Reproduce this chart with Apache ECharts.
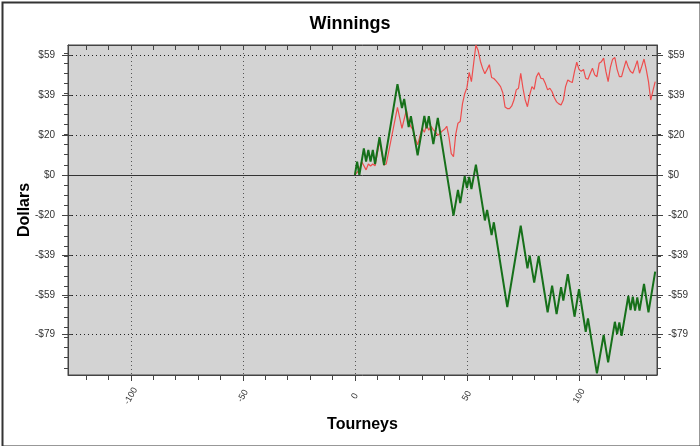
<!DOCTYPE html>
<html>
<head>
<meta charset="utf-8">
<script src="https://cdn.jsdelivr.net/npm/echarts@6/dist/echarts.min.js"></script>
<style>html,body{margin:0;padding:0;background:#fff}#c{width:700px;height:446px}</style>
</head>
<body>
<div id="c"></div>
<script>
// ---- data ----
const greenTourney = [0,1,2,4,5,6,7,8,9,11,13,19,21,22,24,25,28,31,32,33,35,37,44,46,47,49,50,51,52,54,58,59,61,62,68,74,77,78,80,82,86,88,90,92,93,95,98,100,103,104,108,111,113,116,117,118,119,122,123,124,125,126,127,129,131,134];
const greenWinnings = [0,6.6,0,13.1,6.6,12.3,6.6,12.3,5.4,18.6,4.9,44.7,33,37.4,23.6,28.9,9.7,29.1,23,28.9,15.2,28.1,-20,-7.4,-13.9,-0.6,-6.4,-1,-6.9,5.1,-22.4,-17.2,-29.6,-23.3,-65,-25,-46,-39.7,-53,-39.9,-67.6,-54.5,-68.5,-55.3,-61.9,-48.8,-69.8,-56.2,-77.2,-70.6,-97.7,-78.8,-92.3,-72.3,-78.3,-72.6,-79.2,-59.6,-66.5,-59.9,-66.8,-60.3,-66.8,-53.7,-67.6,-47.6];

const redTourney = [0,2,3,5,6,7,8,9,11,13,14,19,21,23,24,25,26,27,28,29,30,31,32,33,34,35,36,37,38,39,40,41,42,43,44,45,46,47,48,49,50,51,52,53,54,55,56,57,58,59,60,61,62,63,64,65,66,67,68,69,70,71,72,73,74,75,76,77,78,79,80,81,82,83,84,85,86,87,88,89,90,91,92,93,94,95,96,97,98,99,100,101,102,103,104,105,106,107,108,109,110,111,112,113,114,115,116,117,118,119,120,121,122,123,124,125,126,127,128,129,130,131,132,133,134];
const redWinnings = [0,2.5,6.6,2.5,5.4,4.4,5.4,4.5,16.5,4.9,5.4,33.3,23,32,26,23.8,22,18,14.8,19,23,21,24.6,22,24,22.2,21.3,19.5,20.5,21.7,22.5,24,18.5,10.5,9,20,25.5,26.3,35,40,43,50.5,46,55,64,61.3,56,52.5,49.8,52,54.3,48,47.5,46.3,45,43.5,40.5,33.5,32.7,32.7,34,37,41.9,42.7,50,42.7,37,33.6,39.4,43.5,42.2,48.4,50.4,47.6,47.4,45,41.9,42.7,41,38,36,35,34.5,36.9,43.5,46.8,46,45.5,51,55.5,52,51,52,47.6,47.1,50,52.6,49.3,48.4,55,55.8,57.5,51,46,53,57,57.8,52,48.4,48.4,52.5,56.3,53,50.9,50.1,53,56.3,50.1,53.5,57.1,52,46,36.9,41.5,46];

const xMajorTicks = [-100,-50,0,50,100];
const xMinorTicks = [-120,-110,-100,-90,-80,-70,-60,-50,-40,-30,-20,-10,0,10,20,30,40,50,60,70,80,90,100,110,120,130];
const yMajorTicks = [-78.67,-59,-39.33,-19.67,0,19.67,39.33,59];
const yMajorLabels = ['-$79','-$59','-$39','-$20','$0','$20','$39','$59'];
const yMinorTicks = [-95,-90,-85,-80,-75,-70,-65,-60,-55,-50,-45,-40,-35,-30,-25,-20,-15,-10,-5,0,5,10,15,20,25,30,35,40,45,50,55,60];

const XMIN = -128, XMAX = 134.8, YMIN = -98.5, YMAX = 64;
const FONT = 'Liberation Sans, Arial, sans-serif';

function yLabel(v){
  let best = 0, d = 1e9;
  yMajorTicks.forEach((t,i)=>{ if (Math.abs(t-v)<d){d=Math.abs(t-v);best=i;} });
  return yMajorLabels[best];
}
const zip = (a,b)=>a.map((x,i)=>[x,b[i]]);

const axisCol = '#444';
const chart = echarts.init(document.getElementById('c'), null, {renderer:'canvas'});

function yAx(pos, ticks, len, labels, split, inside){
  return {
    type:'value', position:pos, min:YMIN, max:YMAX,
    axisLine:{show:labels, onZero:false, lineStyle:{color:axisCol}},
    axisTick:{show:true, customValues:ticks, length:len, inside:!!inside, lineStyle:{color:axisCol}},
    axisLabel:{show:labels, customValues:labels?yMajorTicks:undefined, formatter:yLabel, fontSize:10, color:'#333', fontFamily:FONT, margin:pos==='left'?13:11},
    splitLine:{show:split, lineStyle:{color:'#222', type:[1,3], width:1}}
  };
}
function xAx(pos, ticks, len, labels, split, inside, showLine){
  return {
    type:'value', position:pos, min:XMIN, max:XMAX,
    axisLine:{show:showLine, onZero:false, lineStyle:{color:axisCol}},
    axisTick:{show:true, customValues:ticks, length:len, inside:!!inside, lineStyle:{color:axisCol}},
    axisLabel:{show:labels, customValues:labels?xMajorTicks:undefined, rotate:60, align:'center', verticalAlign:'middle', margin:21, fontSize:9, color:'#333', fontFamily:FONT},
    splitLine:{show:split, lineStyle:{color:'#555', type:[1,3], width:1}}
  };
}

const xAxes = [
  Object.assign(xAx('bottom', xMajorTicks, 6, true, true, false, true), {name:'Tourneys', nameLocation:'middle', nameGap:42, nameMoveOverlap:false, nameTextStyle:{fontWeight:'bold', fontSize:16, color:'#000', fontFamily:FONT}}),
  xAx('bottom', xMinorTicks, 5, false, false, false, false),
  xAx('top', xMinorTicks, 5, false, false, true, true)
];
const yAxes = [
  Object.assign(yAx('left', yMajorTicks, 6, true, true), {name:'Dollars', nameLocation:'middle', nameGap:35, nameMoveOverlap:false, nameTextStyle:{fontWeight:'bold', fontSize:16, color:'#000', fontFamily:FONT}}),
  yAx('left', yMinorTicks, 4, false, false),
  yAx('right', yMajorTicks, 6, true, false),
  yAx('right', yMinorTicks, 4, false, false)
];
// inside halves of the crossing ticks
yAxes.push(yAx('left', yMajorTicks, 4, false, false, true));
yAxes.push(yAx('right', yMajorTicks, 4, false, false, true));

chart.setOption({
  animation:false,
  backgroundColor:'#ffffff',
  title:{text:'Winnings', left:'center', top:10, textStyle:{fontSize:18, fontWeight:'bold', color:'#000', fontFamily:FONT}},
  grid:{left:68, right:43, top:45, bottom:71, show:true, backgroundColor:'#d3d3d3', borderColor:axisCol, borderWidth:1},
  xAxis:xAxes,
  yAxis:yAxes,
  graphic:[{type:'rect', left:0, top:0, silent:true, z:100, shape:{x:1, y:1, width:698, height:444}, style:{fill:'none', stroke:'#333', lineWidth:2}}],
  series:[
    {type:'line', name:'red', xAxisIndex:0, yAxisIndex:0, data:zip(redTourney, redWinnings), showSymbol:false, symbol:'none', z:3,
     lineStyle:{color:'#ee4d4d', width:1.2}, emphasis:{disabled:true},
     markLine:{silent:true, symbol:['none','none'], label:{show:false}, lineStyle:{color:'#333', type:'solid', width:1}, data:[{yAxis:0}], emphasis:{disabled:true}}},
    {type:'line', name:'green', xAxisIndex:0, yAxisIndex:0, data:zip(greenTourney, greenWinnings), showSymbol:false, symbol:'none', z:4,
     lineStyle:{color:'#16701a', width:2}, emphasis:{disabled:true}}
  ]
});
</script>
</body>
</html>
